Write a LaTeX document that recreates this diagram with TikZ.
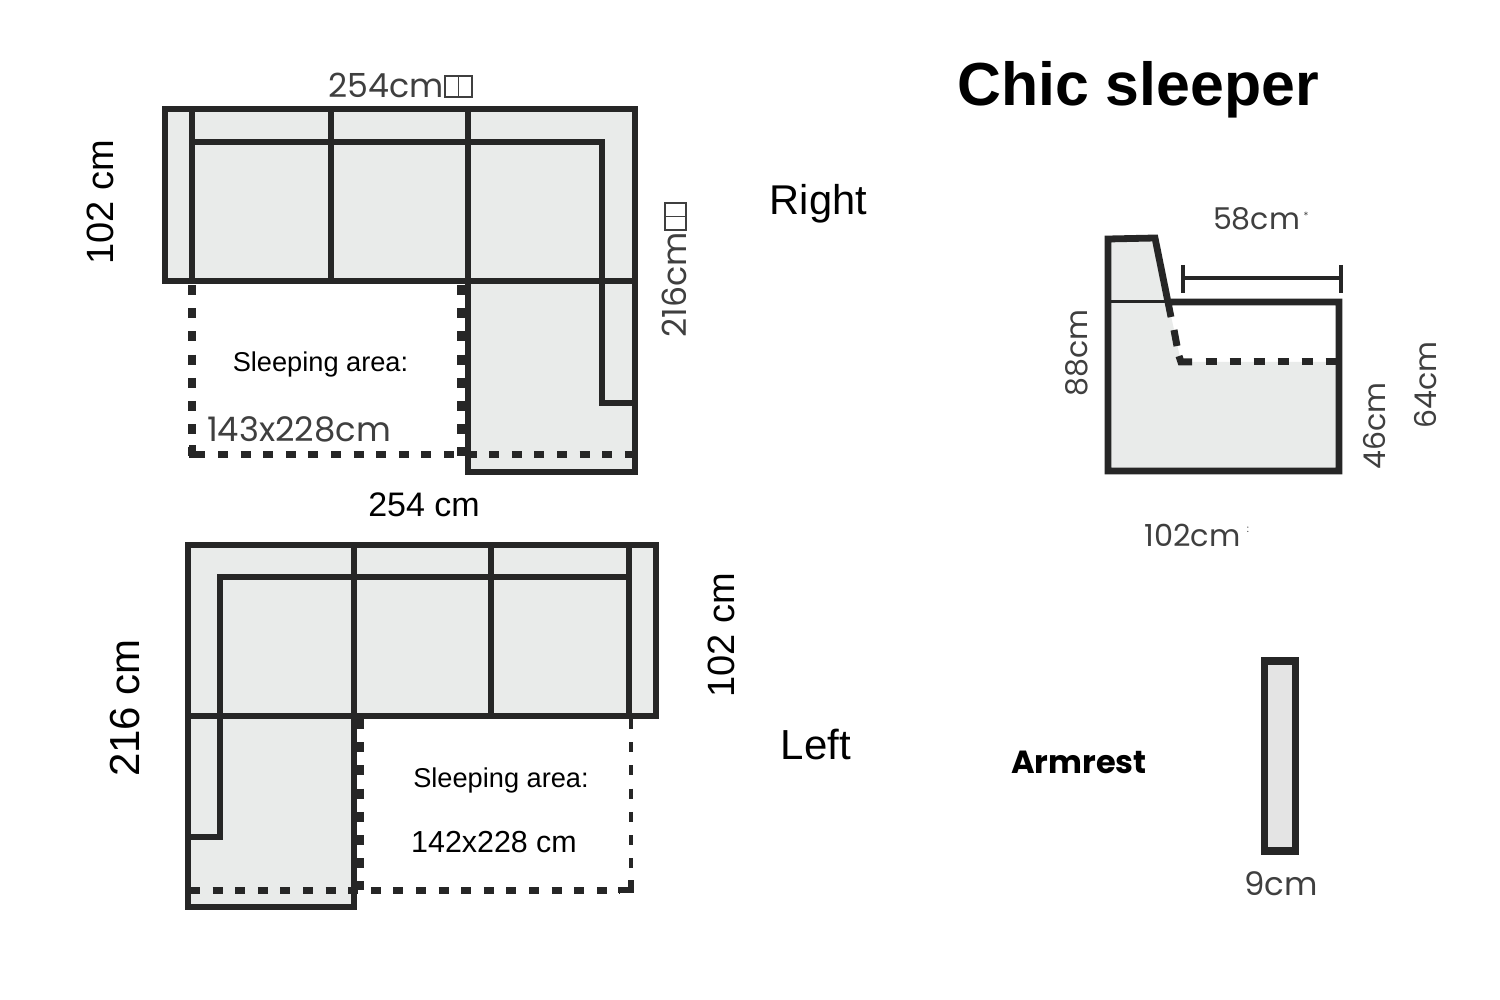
\documentclass[tikz,border=0pt]{standalone}
\usepackage{fontspec}
\setmainfont{Liberation Sans}
\newfontfamily\geo{Poppins}
\definecolor{sofafill}{HTML}{E9EBEA}
\definecolor{armfill}{HTML}{E4E4E4}
\definecolor{ink}{HTML}{262626}
\definecolor{dimgrey}{HTML}{3F3F3F}
\newcommand{\fs}[1]{\fontsize{#1}{#1}\selectfont}
\tikzset{
  body/.style={draw=ink,fill=sofafill,line width=3.4pt,line join=miter},
  seam/.style={draw=ink,line width=3.4pt},
  thinseam/.style={draw=ink,line width=1.5pt},
  dashh/.style={draw=ink,line width=3.5pt,dash pattern=on 5pt off 6.3pt},
  dashv/.style={draw=ink,line width=3.6pt,dash pattern=on 5pt off 6.6pt},
  dashthin/.style={draw=ink,line width=2.2pt,dash pattern=on 5pt off 6.6pt},
  solidbit/.style={draw=ink,line width=3.5pt,line join=miter},
  sans/.style={inner sep=0pt,text=black},
  dim/.style={inner sep=0pt,text=dimgrey},
  tofu/.style={draw=dimgrey,line width=0.8pt}
}
\begin{document}
\begin{tikzpicture}[x=0.5pt,y=-0.5pt]
\useasboundingbox (0,0) rectangle (1500,1000);
% ---------- top plan (Right)
\path[fill=sofafill] (165,109) -- (635,109) -- (635,472) -- (468,472) -- (468,281) -- (165,281) -- cycle;
\draw[body,fill=none] (192,281) -- (165,281) -- (165,109) -- (635,109) -- (635,472) -- (468,472) -- (468,281);
\draw[seam] (165,281) -- (635,281);
\draw[seam] (192,109) -- (192,281);
\draw[seam] (331,109) -- (331,281);
\draw[seam] (468,109) -- (468,281);
\draw[seam,line join=miter] (192,142) -- (602,142) -- (602,403) -- (635,403);
\draw[dashv] (192,285) -- (192,456);
\draw[dashv] (461,285) -- (461,456);
\draw[solidbit] (192,445) -- (192,454) -- (205,454);
\draw[dashh] (218,454) -- (632,454);
% ---------- bottom plan (Left)
\path[fill=sofafill] (188,545) -- (656,545) -- (656,716) -- (354,716) -- (354,907) -- (188,907) -- cycle;
\draw[body,fill=none] (188,716) -- (188,545) -- (656,545) -- (656,716) -- (188,716) -- (188,907) -- (354,907) -- (354,545);
\draw[seam] (491,545) -- (491,716);
\draw[seam] (629,545) -- (629,716);
\draw[seam,line join=miter] (188,837) -- (220,837) -- (220,577) -- (629,577);
\draw[dashh] (190,890) -- (620,890);
\draw[dashv] (360,719) -- (360,890);
\draw[dashthin] (631,719) -- (631,878);
\draw[draw=ink,line width=2.8pt,line join=miter] (618,890) -- (631,890) -- (631,880);
% ---------- side view
\path[fill=sofafill] (1108,239) -- (1155,238) -- (1168,302) -- (1181,362) -- (1339,362) -- (1339,471) -- (1108,471) -- cycle;
\draw[seam,line join=miter] (1171,317) -- (1155,238) -- (1108,239) -- (1108,471) -- (1339,471) -- (1339,302) -- (1168,302);
\draw[thinseam] (1108,302) -- (1168,302);
\draw[solidbit] (1174,330) -- (1177,346);
\draw[solidbit] (1179,356) -- (1181,362) -- (1192,362);
\draw[dashh,dash pattern=on 5.7pt off 6.3pt] (1205.5,362) -- (1336,362);
\draw[draw=ink,line width=2pt] (1183,278) -- (1341,278);
\draw[draw=ink,line width=2pt] (1183,265) -- (1183,293);
\draw[draw=ink,line width=2pt] (1341,265) -- (1341,293);
% ---------- armrest
\node[draw=ink,fill=armfill,line width=3.6pt,minimum width=15.5pt,minimum height=95pt,inner sep=0pt] (arm) at (1280,756) {};
% ---------- texts
\node[sans,font=\bfseries\fs{30.4}] (title) at (1138,90) {Chic sleeper};
\node[sans,font=\fs{20.8}] (right) at (818.5,204) {Right};
\node[sans,font=\fs{21}] (left) at (816,745) {Left};
\node[sans,font=\fs{13.6}] (sleepa) at (320.5,364) {Sleeping area:};
\node[sans,font=\fs{13.6}] (sleepb) at (501,780) {Sleeping area:};
\node[sans,font=\fs{15.2}] (sizeb) at (494,842) {142x228 cm};
\node[sans,font=\fs{17}] (w254) at (424,505) {254 cm};
\node[sans,font=\fs{19},rotate=90] (h102a) at (100,202) {102 cm};
\node[sans,font=\fs{21},rotate=90] (h216) at (125,708) {216 cm};
\node[sans,font=\fs{19},rotate=90] (h102b) at (721,635) {102 cm};
\node[dim,font=\geo\fs{16.6}] (w254t) at (386,85.5) {254cm};
\draw[tofu] (445,76) rectangle (472,97);
\draw[tofu] (458.5,76) -- (458.5,97);
\node[dim,font=\geo\fs{16.6},rotate=90] (h216t) at (674,285) {216cm};
\draw[tofu] (665,203) rectangle (686,230);
\draw[tofu] (665,216.5) -- (686,216.5);
\node[dim,font=\geo\fs{16.9}] (sizea) at (299,429.5) {143x228cm};
\node[dim,font=\geo\fs{15}] (d58) at (1256.5,219) {58cm};
\node[dim,font=\geo\fs{5}] (d58m) at (1306,216) {*};
\node[dim,font=\geo\fs{15},rotate=90] (d88) at (1077,353) {88cm};
\node[dim,font=\geo\fs{15},rotate=90] (d46) at (1375,426) {46cm};
\node[dim,font=\geo\fs{15},rotate=90] (d64) at (1426,385) {64cm};
\node[dim,font=\geo\fs{15.2}] (d102) at (1192.5,535) {102cm};
\node[dim,font=\geo\fs{5}] (d102m) at (1248,530) {:};
\node[dim,font=\geo\fs{16.2}] (d9) at (1281,884) {9cm};
\node[sans,font=\geo\bfseries\fs{16}] (armt) at (1079,762) {Armrest};
\end{tikzpicture}
\end{document}
